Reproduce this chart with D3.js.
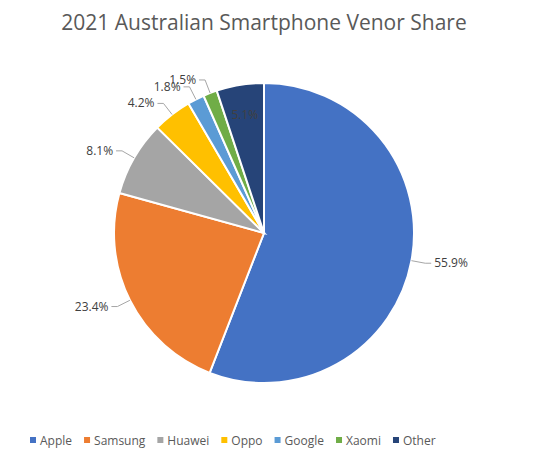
<!DOCTYPE html><html><head><meta charset="utf-8"><script src="https://cdn.jsdelivr.net/npm/d3@7"></script>
<style>body{margin:0;background:#fff;font-family:"Open Sans",sans-serif}</style></head><body><svg width="534" height="463"></svg>
<script>
const categories=["Apple","Samsung","Huawei","Oppo","Google","Xaomi","Other"];
const values=[55.9,23.4,8.1,4.2,1.8,1.5,5.1];
const labels=["55.9%","23.4%","8.1%","4.2%","1.8%","1.5%","5.1%"];
const colors=["#4472C4","#ED7D31","#A5A5A5","#FFC000","#5B9BD5","#70AD47","#264478"];
const svg=d3.select("svg");
const cx=264,cy=233,r=150;
svg.append("text").attr("x",264).attr("y",30).attr("text-anchor","middle")
  .attr("font-size",21).attr("fill","#595959").text("2021 Australian Smartphone Venor Share");
const pie=d3.pie().sort(null).value(d=>d)(values);
const arc=d3.arc().innerRadius(0).outerRadius(r);
const g=svg.append("g").attr("transform",`translate(${cx},${cy})`);
g.selectAll("path").data(pie).join("path").attr("d",arc)
  .attr("fill",(d,i)=>colors[i]).attr("stroke","#fff").attr("stroke-width",2);
const mid=d=>(d.startAngle+d.endAngle)/2;
const pt=(a,rad)=>[rad*Math.sin(a),-rad*Math.cos(a)];
pie.forEach((d,i)=>{
  const a=mid(d);
  if(i===6){
    const p=pt(a,r*0.8);
    g.append("text").attr("x",p[0]).attr("y",p[1]+4).attr("text-anchor","middle")
     .attr("font-size",12).attr("fill","#404040").text(labels[i]);
    return;
  }
  const p1=pt(a,r),p2=pt(a,r+14),right=Math.sin(a)>0;
  const p3=[p2[0]+(right?6:-6),p2[1]];
  g.append("polyline").attr("points",[p1,p2,p3].map(p=>p.join(",")).join(" "))
   .attr("fill","none").attr("stroke","#A6A6A6").attr("stroke-width",1);
  g.append("text").attr("x",p3[0]+(right?3:-3)).attr("y",p3[1]+4)
   .attr("text-anchor",right?"start":"end").attr("font-size",12).attr("fill","#404040").text(labels[i]);
});
const lg=svg.append("g").attr("transform","translate(0,441)");
let x=30;
categories.forEach((c,i)=>{
  lg.append("rect").attr("x",x).attr("y",-4).attr("width",6).attr("height",6).attr("fill",colors[i]);
  const t=lg.append("text").attr("x",x+10).attr("y",4).attr("font-size",12).attr("fill","#595959").text(c);
  x+=t.node().getComputedTextLength()+22;
});
</script></body></html>
